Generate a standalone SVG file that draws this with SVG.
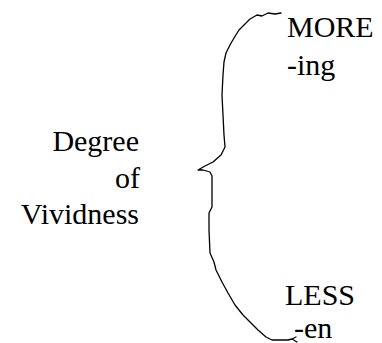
<svg xmlns="http://www.w3.org/2000/svg" width="382" height="343" viewBox="0 0 382 343">
<style>
  .brace { fill: none; stroke: #000; stroke-width: 1.3; stroke-linejoin: round; stroke-linecap: round; }
</style>
<rect width="382" height="343" fill="#fff"/>
<g id="label-degree" font-family="Liberation Serif, Times New Roman, DejaVu Serif, serif" font-size="30" fill="#000">
  <text x="139" y="151" text-anchor="end">Degree</text>
  <text x="140" y="188" text-anchor="end">of</text>
  <text x="139" y="224" text-anchor="end">Vividness</text>
</g>
<g id="connectors">
  <path class="brace" d="M281,13 L275,14 L268,13 L262,16 L257,15 L250,19 L244,25 L239,30 L234,38 L230,45 L226,53 L224,62 L223,75 L222,95 L223,115 L224,135 L225,147 L221,155 L213,162 L205,166 L198,170 L203,170 L210,172 L212,176 L212,195 L212,207 L209,213 L209,230 L210,253 L214,262 L216,270 L222,282 L228,293 L235,305 L243,315 L250,322 L258,330 L266,337 L272,340 L280,340 L288,340 L292,339 L296,337 M292,339 L297,342"/>
</g>
<g id="label-more" font-family="Liberation Serif, Times New Roman, DejaVu Serif, serif" font-size="30" fill="#000">
  <text x="287" y="37">MORE</text>
  <text x="287" y="75">-ing</text>
</g>
<g id="label-less" font-family="Liberation Serif, Times New Roman, DejaVu Serif, serif" font-size="30" fill="#000">
  <text x="285" y="305">LESS</text>
  <text x="294" y="338">-en</text>
</g>
</svg>
